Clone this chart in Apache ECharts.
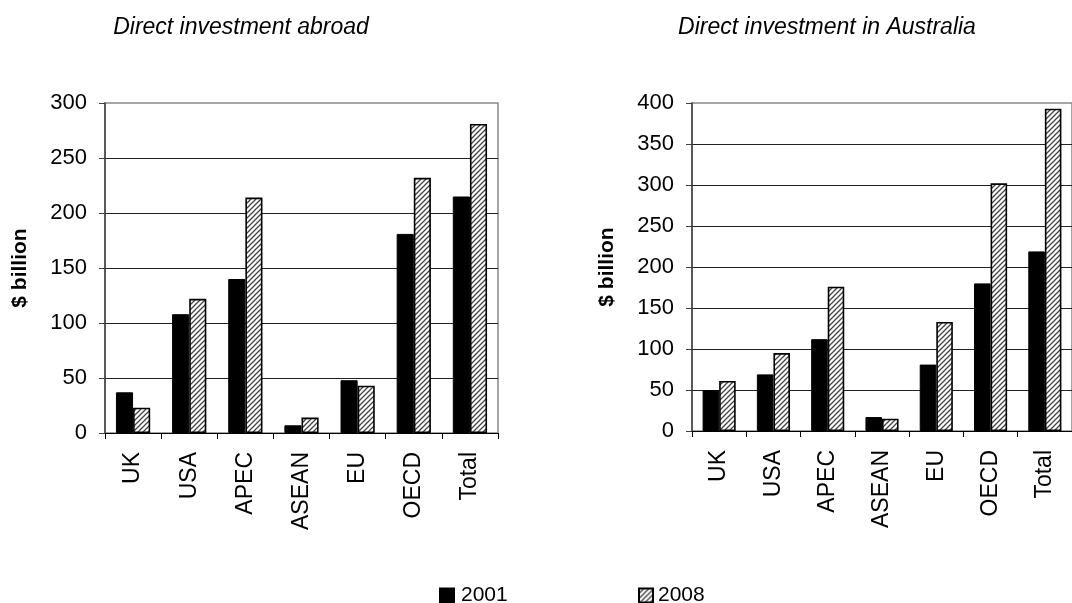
<!DOCTYPE html>
<html>
<head>
<meta charset="utf-8">
<script src="https://cdn.jsdelivr.net/npm/echarts@6/dist/echarts.min.js"></script>
<style>
html,body{margin:0;padding:0;background:#fff;}
#chart{width:1072px;height:603px;}
</style>
</head>
<body>
<div id="chart"></div>
<script>
// ---- data ----
var categories = ['UK', 'USA', 'APEC', 'ASEAN', 'EU', 'OECD', 'Total'];
var abroad2001 = [37, 108, 140, 7, 48, 181, 215];
var abroad2008 = [23, 122, 214, 14, 43, 232, 281];
var australia2001 = [50, 69, 112, 17, 81, 180, 219];
var australia2008 = [61, 95, 176, 15, 133, 302, 393];
var leftTicks = { max: 300, interval: 50 };
var rightTicks = { max: 400, interval: 50 };
var titleLeft = 'Direct investment abroad';
var titleRight = 'Direct investment in Australia';
var yName = '$ billion';
var seriesNames = ['2001', '2008'];

// ---- hatch pattern ----
function makeHatch() {
  var c = document.createElement('canvas');
  c.width = 5; c.height = 5;
  var g = c.getContext('2d');
  g.fillStyle = '#fff';
  g.fillRect(0, 0, 5, 5);
  g.strokeStyle = '#444';
  g.lineWidth = 1.3;
  g.beginPath();
  g.moveTo(-1, 6); g.lineTo(6, -1);
  g.moveTo(-1, 1); g.lineTo(1, -1);
  g.moveTo(4, 6); g.lineTo(6, 4);
  g.stroke();
  return c;
}
var hatch = { image: makeHatch(), repeat: 'repeat' };

var FONT = '"Liberation Sans", Arial, sans-serif';

function xAxis(gridIndex) {
  return {
    type: 'category', gridIndex: gridIndex, data: categories,
    axisLine: { lineStyle: { color: '#000', width: 1 } },
    axisTick: { show: true, length: 6, lineStyle: { color: '#000' } },
    axisLabel: { rotate: 90, margin: 19, fontSize: 23, color: '#000', fontFamily: FONT }
  };
}
function yAxis(gridIndex, t) {
  return {
    type: 'value', gridIndex: gridIndex, min: 0, max: t.max, interval: t.interval,
    name: yName, nameLocation: 'middle', nameGap: 74,
    nameTextStyle: { fontSize: 21, fontWeight: 'bold', color: '#000', fontFamily: FONT },
    axisLine: { show: true, lineStyle: { color: '#404040', width: 1.5 } },
    axisTick: { show: true, length: 6, lineStyle: { color: '#404040' } },
    axisLabel: { margin: 18, fontSize: 22, color: '#000', fontFamily: FONT },
    splitLine: { show: true, showMaxLine: false, lineStyle: { color: '#222', width: 1 } }
  };
}
function bars(name, data, idx, pattern) {
  return {
    type: 'bar', name: name, data: data, xAxisIndex: idx, yAxisIndex: idx,
    barGap: '0%', barCategoryGap: '39%',
    itemStyle: pattern
      ? { color: hatch, borderColor: '#000', borderWidth: 1.6 }
      : { color: '#000', borderColor: '#000', borderWidth: 1 }
  };
}

var chart = echarts.init(document.getElementById('chart'), null, { renderer: 'canvas' });
chart.setOption({
  animation: false,
  backgroundColor: '#fff',
  textStyle: { fontFamily: FONT },
  graphic: [
    { type: 'text', x: 241, y: 28, style: { text: titleLeft, textAlign: 'center', textVerticalAlign: 'middle', font: 'italic 23px "Liberation Sans", Arial, sans-serif', fill: '#000' } },
    { type: 'text', x: 827, y: 28, style: { text: titleRight, textAlign: 'center', textVerticalAlign: 'middle', font: 'italic 23px "Liberation Sans", Arial, sans-serif', fill: '#000' } }
  ],
  grid: [
    { left: 105, right: 574, top: 103, bottom: 170, show: true, borderColor: '#888', borderWidth: 1.5, backgroundColor: 'transparent' },
    { left: 692, right: -13, top: 103, bottom: 172, show: true, borderColor: '#888', borderWidth: 1.5, backgroundColor: 'transparent' }
  ],
  legend: [
    { data: [seriesNames[0]], icon: 'rect', left: 439, top: 585, padding: 0, itemWidth: 14, itemHeight: 14, itemGap: 0,
      textStyle: { fontSize: 21, color: '#000', fontFamily: FONT, padding: [0, 0, 0, 2] } },
    { data: [seriesNames[1]], icon: 'rect', left: 638, top: 585, padding: 0, itemWidth: 14, itemHeight: 14, itemGap: 0,
      textStyle: { fontSize: 21, color: '#000', fontFamily: FONT, padding: [0, 0, 0, 0] } }
  ],
  xAxis: [xAxis(0), xAxis(1)],
  yAxis: [yAxis(0, leftTicks), yAxis(1, rightTicks)],
  series: [
    bars(seriesNames[0], abroad2001, 0, false),
    bars(seriesNames[1], abroad2008, 0, true),
    bars(seriesNames[0], australia2001, 1, false),
    bars(seriesNames[1], australia2008, 1, true)
  ]
});
</script>
</body>
</html>
